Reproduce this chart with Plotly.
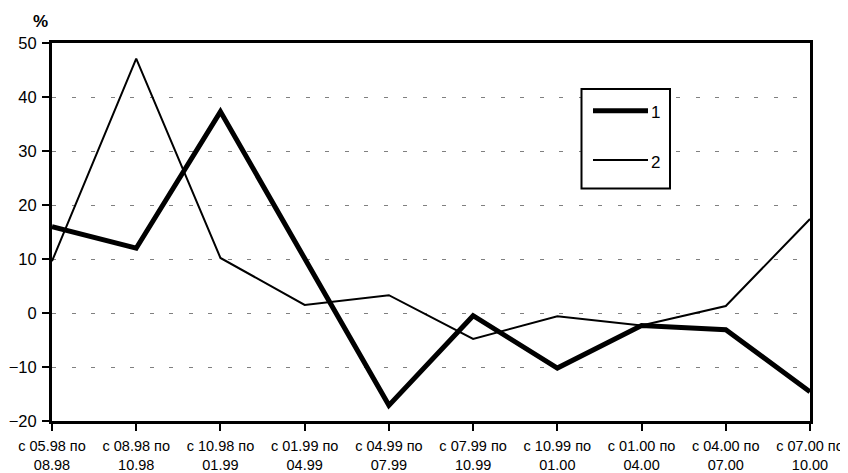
import plotly.graph_objects as go

categories = ["с 05.98 по<br>08.98", "с 08.98 по<br>10.98", "с 10.98 по<br>01.99",
              "с 01.99 по<br>04.99", "с 04.99 по<br>07.99", "с 07.99 по<br>10.99",
              "с 10.99 по<br>01.00", "с 01.00 по<br>04.00", "с 04.00 по<br>07.00",
              "с 07.00 по<br>10.00"]
series1 = [16.0, 12.0, 37.3, 10.0, -17.1, -0.5, -10.2, -2.3, -3.1, -14.6]
series2 = [9.6, 47.1, 10.2, 1.5, 3.3, -4.8, -0.6, -2.3, 1.3, 17.4]
series_names = ["1", "2"]
y_ticks = [-20, -10, 0, 10, 20, 30, 40, 50]

# page offset from the default 8px body margin
OX, OY = 8, 8
W, H = 848 - OX, 473 - OY
# target plot box in page pixels: left 52, right 810, top 43, bottom 421
L, T = 52 - OX, 43 - OY
R = W - (810 - OX)
B = H - (421 - OY)
PW, PH = W - L - R, H - T - B
font = "Liberation Sans, Arial, sans-serif"

fig = go.Figure()
fig.add_trace(go.Scatter(x=categories, y=series1, mode="lines", name=series_names[0],
                         line=dict(color="black", width=5), showlegend=False))
fig.add_trace(go.Scatter(x=categories, y=series2, mode="lines", name=series_names[1],
                         line=dict(color="black", width=2), showlegend=False))

fig.update_layout(
    width=W, height=H,
    margin=dict(l=L, r=R, t=T, b=B, pad=0, autoexpand=False),
    paper_bgcolor="white", plot_bgcolor="white",
    font=dict(family=font, color="black"),
)
fig.update_xaxes(
    type="category", range=[0, len(categories) - 1], automargin=False,
    showline=True, linecolor="black", linewidth=3, mirror=True,
    ticks="outside", ticklen=7, tickwidth=2, tickcolor="black",
    showgrid=False, tickfont=dict(size=14.5, family=font),
    tickangle=0, ticklabelstandoff=3,
)
fig.update_yaxes(
    range=[-20, 50], tickvals=y_ticks, automargin=False,
    showline=True, linecolor="black", linewidth=3, mirror=True,
    ticks="outside", ticklen=7, tickwidth=2, tickcolor="black",
    showgrid=True, gridcolor="#808080", gridwidth=1, griddash="4px,15.5px",
    zeroline=False, tickfont=dict(size=16.5, family=font), ticklabelstandoff=2,
)


def px_x(v):
    # page pixel -> paper (plot-area) coordinate
    return (v - OX - L) / PW


def px_y(v):
    return 1 - (v - OY - T) / PH


# "%" unit label
fig.add_annotation(x=px_x(40), y=px_y(21), xref="paper", yref="paper",
                   text="<b>%</b>", showarrow=False, font=dict(size=17, family=font),
                   xanchor="center", yanchor="middle")

# legend box (manual, to match the reference layout)
fig.add_shape(type="rect", xref="paper", yref="paper",
              x0=px_x(581.5), x1=px_x(670), y0=px_y(89), y1=px_y(188.5),
              line=dict(color="black", width=2), fillcolor="white", layer="above")
for i, (yy, w) in enumerate([(110.7, 5), (160, 2)]):
    fig.add_shape(type="line", xref="paper", yref="paper",
                  x0=px_x(593), x1=px_x(648), y0=px_y(yy), y1=px_y(yy),
                  line=dict(color="black", width=w), layer="above")
    fig.add_annotation(x=px_x(649), y=px_y(yy + 2), xref="paper", yref="paper",
                       text=series_names[i], showarrow=False, xanchor="left",
                       yanchor="middle", font=dict(size=17, family=font))

fig.write_html("out.html")
